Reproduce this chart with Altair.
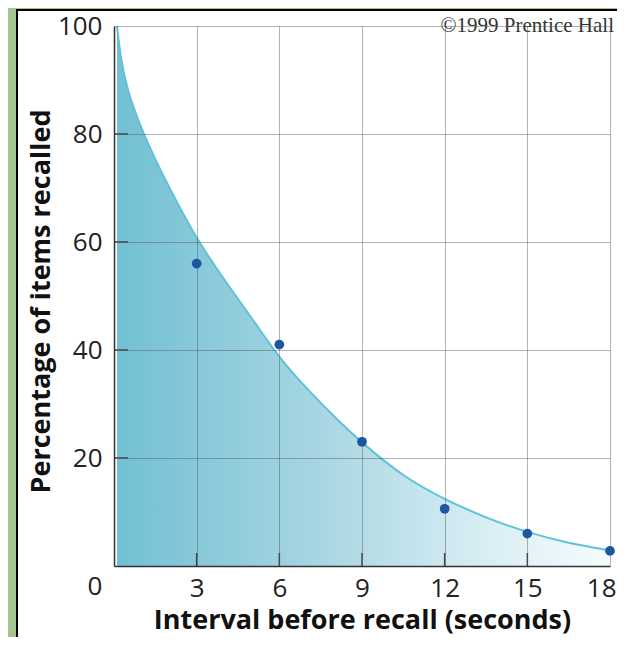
import altair as alt
import pandas as pd

# ---- data ----
trial_sec = [3, 6, 9, 12, 15, 18]
recall_pct = [56, 41, 23, 10.6, 6, 2.8]

curve_sec = [0.11, 0.23, 0.45, 1.05, 2.0, 3.0, 4.0, 5.2, 6.0, 7.0, 8.2, 9.0, 10.5, 12, 13.5, 15, 16.5, 18]
curve_pct = [100, 94.5, 88.5, 80, 70, 60.5, 53, 44.5, 38.5, 32.8, 26.6, 22.8, 16.5, 12.3, 8.9, 6.2, 4.2, 2.9]

x_ticks = [3, 6, 9, 12, 15, 18]
y_ticks = [20, 40, 60, 80, 100]
inner_y_ticks = [20, 40, 60, 80]
inner_x_ticks = [3, 6, 9, 12, 15]

W, H = 496, 540
FONT = "Open Sans"

pts = pd.DataFrame({"sec": trial_sec, "pct": recall_pct})
curve = pd.DataFrame({"sec": curve_sec, "pct": curve_pct})
one = pd.DataFrame({"k": [0]})

xs = alt.Scale(domain=[0, 18], nice=False, zero=True)
ys = alt.Scale(domain=[0, 100], nice=False)

x_axis = alt.Axis(
    values=x_ticks, grid=True, gridColor="#555", gridOpacity=0.45, gridWidth=1,
    ticks=False, domainColor="#333", domainWidth=1.5,
    labelFont=FONT, labelFontSize=26, labelColor="#222", labelPadding=9,
    labelFlush=True, labelFlushOffset=6, labelBound=False,
    title="Interval before recall (seconds)", titleFont=FONT, titleFontSize=27,
    titleFontWeight="bold", titleColor="#111", titleY=62, titleBaseline="alphabetic",
    zindex=1,
)
y_axis = alt.Axis(
    values=y_ticks, grid=True, gridColor="#555", gridOpacity=0.45, gridWidth=1,
    ticks=False, domainColor="#333", domainWidth=1.5,
    labelFont=FONT, labelFontSize=26, labelColor="#222", labelPadding=12,
    title="Percentage of items recalled", titleFont=FONT, titleFontSize=27,
    titleFontWeight="bold", titleColor="#111", titleX=-73, titleY=H / 2 + 5,
    titleBaseline="middle", titleAlign="center",
    zindex=1,
)

panel = alt.Chart(one).mark_rect(fill="white", stroke="black", strokeWidth=2).encode(
    x=alt.value(-97), x2=alt.value(530), y=alt.value(-16), y2=alt.value(H + 100)
)

grad = alt.Gradient(
    gradient="linear",
    stops=[
        alt.GradientStop(color="#72c0d4", offset=0),
        alt.GradientStop(color="#a6d5e2", offset=0.4),
        alt.GradientStop(color="#d9eef4", offset=0.75),
        alt.GradientStop(color="#f7fbfd", offset=1),
    ],
    x1=0, x2=1, y1=0, y2=0,
)

area = alt.Chart(curve).mark_area(interpolate="basis", color=grad).encode(
    x=alt.X("sec:Q", scale=xs, axis=x_axis),
    y=alt.Y("pct:Q", scale=ys, axis=y_axis),
)

line = alt.Chart(curve).mark_line(interpolate="basis", color="#5ec2d9", strokeWidth=2).encode(
    x=alt.X("sec:Q", scale=xs),
    y=alt.Y("pct:Q", scale=ys),
)

ytick_df = pd.DataFrame({"v": inner_y_ticks})
xtick_df = pd.DataFrame({"v": inner_x_ticks})
yticks = alt.Chart(ytick_df).mark_rule(color="#444", strokeWidth=1.5).encode(
    y=alt.Y("v:Q", scale=ys), x=alt.value(0), x2=alt.value(14)
)
xticks = alt.Chart(xtick_df).mark_rule(color="#444", strokeWidth=1.5).encode(
    x=alt.X("v:Q", scale=xs), y=alt.value(H), y2=alt.value(H - 13)
)

dots = alt.Chart(pts).mark_circle(size=95, color="#1a56a6", opacity=1).encode(
    x=alt.X("sec:Q", scale=xs),
    y=alt.Y("pct:Q", scale=ys),
)

zero_lbl = alt.Chart(one).mark_text(
    text="0", font=FONT, fontSize=26, color="#222", align="center", baseline="middle"
).encode(x=alt.value(-19), y=alt.value(H + 21))

credit = alt.Chart(one).mark_text(
    text="©1999 Prentice Hall", font="Liberation Serif", fontSize=21, color="#333",
    align="right", baseline="middle"
).encode(x=alt.value(500), y=alt.value(0))

chart = alt.layer(panel, area, line, yticks, xticks, dots, zero_lbl, credit).properties(
    width=W, height=H,
    background="#a3c690",
    padding={"left": 106, "top": 18, "right": 7, "bottom": 71},
    autosize=alt.AutoSizeParams(type="none"),
).configure_view(stroke="#888", strokeWidth=1.5)

chart.save("out.html", embed_options={"renderer": "svg", "actions": False})
